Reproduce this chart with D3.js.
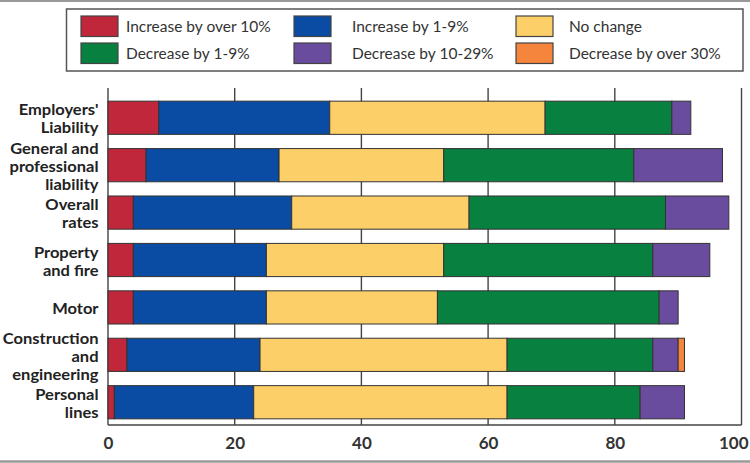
<!DOCTYPE html>
<html><head><meta charset="utf-8">
<script src="https://cdn.jsdelivr.net/npm/d3@7"></script>
<style>body{margin:0;background:#fff}svg{display:block}</style>
</head><body>
<script>
const categories = [
  ["Employers'", "Liability"],
  ["General and", "professional", "liability"],
  ["Overall", "rates"],
  ["Property", "and fire"],
  ["Motor"],
  ["Construction", "and", "engineering"],
  ["Personal", "lines"]
];
const seriesNames = ["Increase by over 10%", "Increase by 1-9%", "No change", "Decrease by 1-9%", "Decrease by 10-29%", "Decrease by over 30%"];
const increaseOver10 = [8, 6, 4, 4, 4, 3, 1];
const increase1to9   = [27, 21, 25, 21, 21, 21, 22];
const noChange       = [34, 26, 28, 28, 27, 39, 40];
const decrease1to9   = [20, 30, 31, 33, 35, 23, 21];
const decrease10to29 = [3, 14, 10, 9, 3, 4, 7];
const decreaseOver30 = [0, 0, 0, 0, 0, 1, 0];
const xTicks = [0, 20, 40, 60, 80, 100];
const colors = ["#c1273a", "#0a4ba3", "#fdcf69", "#08803f", "#6a4c9f", "#f5843c"];

const W = 750, H = 463;
const svg = d3.select("body").append("svg").attr("width", W).attr("height", H);

// image border lines
svg.append("line").attr("x1",0).attr("x2",W).attr("y1",1).attr("y2",1).attr("stroke","#999").attr("stroke-width",2);
svg.append("line").attr("x1",0).attr("x2",W).attr("y1",461.5).attr("y2",461.5).attr("stroke","#999").attr("stroke-width",2.5);

const plotTop = 88, plotBottom = 425;
const x = d3.scaleLinear().domain([0, 100]).range([108, 741.5]);
const y = d3.scaleBand().domain(d3.range(categories.length)).range([95, 425]).paddingInner(0.3).paddingOuter(0.13);

const seriesArrays = [increaseOver10, increase1to9, noChange, decrease1to9, decrease10to29, decreaseOver30];
const rows = categories.map((c, i) => {
  const r = {idx: i};
  seriesNames.forEach((s, k) => r[s] = seriesArrays[k][i]);
  return r;
});
const stacked = d3.stack().keys(seriesNames)(rows);

// gridlines
svg.append("g").selectAll("line").data(xTicks).join("line")
  .attr("x1", d => x(d)).attr("x2", d => x(d))
  .attr("y1", plotTop).attr("y2", plotBottom)
  .attr("stroke", "#444").attr("stroke-width", 1.4);

// bars
svg.append("g").selectAll("g").data(stacked).join("g")
  .attr("fill", (d, i) => colors[i])
  .selectAll("rect").data(d => d.filter(p => p[1] - p[0] > 0)).join("rect")
  .attr("x", d => x(d[0])).attr("width", d => x(d[1]) - x(d[0]))
  .attr("y", d => y(d.data.idx)).attr("height", y.bandwidth())
  .attr("stroke", "#333").attr("stroke-width", 1);

// bottom axis line
svg.append("line").attr("x1", x(0)).attr("x2", x(100))
  .attr("y1", plotBottom).attr("y2", plotBottom)
  .attr("stroke", "#444").attr("stroke-width", 1.4);

// x axis labels
const xAxis = d3.axisBottom(x).tickValues(xTicks).tickSize(0).tickPadding(0);
const gx = svg.append("g").attr("transform", `translate(0,${plotBottom})`).call(xAxis);
gx.select(".domain").remove();
gx.selectAll("text")
  .attr("y", 24).attr("dy", 0)
  .attr("font-family", "Lato, sans-serif").attr("font-size", 17).attr("font-weight", 700).attr("fill", "#333")
  .attr("text-anchor", d => d === 100 ? "end" : "middle")
  .attr("x", d => d === 100 ? 748 - x(100) : 0);

// category labels (slightly widened to mimic the original humanist bold face)
const lineH = 18;
const labelRight = 98.5, sx = 1.1;
const lab = svg.append("g")
  .attr("transform", `translate(${labelRight},0) scale(${sx},1)`)
  .attr("font-family", "Lato, sans-serif").attr("font-weight", 700).attr("font-size", 15)
  .attr("fill", "#222").attr("text-anchor", "end");
categories.forEach((lines, i) => {
  const cy = y(i) + y.bandwidth() / 2 + 1.5;
  const t = lab.append("text").attr("x", 0);
  lines.forEach((ln, j) => {
    t.append("tspan").attr("x", 0)
      .attr("y", cy + (j - (lines.length - 1) / 2) * lineH)
      .attr("dy", "0.35em").text(ln);
  });
});

// legend
const lg = svg.append("g");
lg.append("rect").attr("x", 66.5).attr("y", 9).attr("width", 676.5).attr("height", 62)
  .attr("fill", "#fff").attr("stroke", "#555").attr("stroke-width", 1.5);
const colX = [81, 294, 516];
const textX = [126, 352, 569];
const rowY = [16, 43];
seriesNames.forEach((s, k) => {
  const c = k % 3, ry = rowY[Math.floor(k / 3)];
  lg.append("rect").attr("x", colX[c]).attr("y", ry).attr("width", 37).attr("height", 20.5)
    .attr("fill", colors[k]).attr("stroke", "#444").attr("stroke-width", 1.2);
  lg.append("text").attr("x", textX[c]).attr("y", ry + 10.5).attr("dy", "0.35em")
    .attr("font-family", "Lato, sans-serif").attr("font-size", 15.5).attr("fill", "#333")
    .text(s);
});
</script>
</body></html>
